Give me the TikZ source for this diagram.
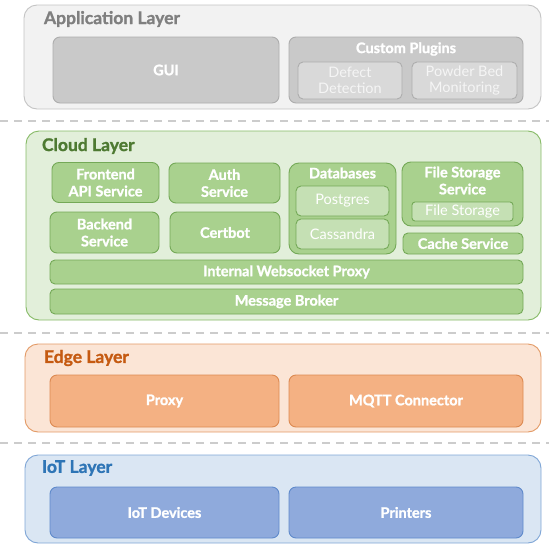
\documentclass[tikz,border=0pt]{standalone}
\usepackage{fontspec}
\setmainfont{Lato}[BoldFeatures={FakeBold=1.3}]
\begin{document}
\begin{tikzpicture}[x=1pt,y=-1pt,
  every node/.style={inner sep=0pt,outer sep=0pt,align=center},
  layer/.style={draw,line width=0.9pt,rounded corners=13pt},
  ibox/.style={draw,line width=0.9pt,rounded corners=7pt,font=\fontsize{14.5}{17}\selectfont\bfseries,text=white},
  lbox/.style={draw,line width=0.9pt,rounded corners=5pt,font=\fontsize{14.5}{16.5}\selectfont,text=white},
  btext/.style={font=\fontsize{14.5}{17}\selectfont\bfseries,text=white},
  ltitle/.style={anchor=west,font=\fontsize{17.5}{18}\selectfont\bfseries},
  sep/.style={draw=black!20,line width=1.8pt,dash pattern=on 8pt off 6pt},
]
\definecolor{appfill}{HTML}{F2F2F2}\definecolor{appdraw}{HTML}{C4C4C4}
\definecolor{appin}{HTML}{C9C9C9}\definecolor{appindraw}{HTML}{ADADAD}
\definecolor{applt}{HTML}{D9D9D9}\definecolor{apptitle}{HTML}{7F7F7F}
\definecolor{cfill}{HTML}{E2EFDA}\definecolor{cdraw}{HTML}{86BA66}
\definecolor{cin}{HTML}{A9D18E}\definecolor{cindraw}{HTML}{74A957}
\definecolor{clt}{HTML}{C5E0B4}\definecolor{ctitle}{HTML}{4E7A32}
\definecolor{efill}{HTML}{FBE5D6}\definecolor{edraw}{HTML}{E39A66}
\definecolor{ein}{HTML}{F4B183}\definecolor{eindraw}{HTML}{DC8A52}
\definecolor{etitle}{HTML}{C55A11}
\definecolor{ifill}{HTML}{DAE6F3}\definecolor{idraw}{HTML}{7FA6D6}
\definecolor{iin}{HTML}{8FAADC}\definecolor{iindraw}{HTML}{5F8ACB}
\definecolor{ititle}{HTML}{2E75B6}
\useasboundingbox (0,0) rectangle (549,544);

% separators
\coordinate (s1a) at (0,121); \coordinate (s1b) at (549,121);
\coordinate (s2a) at (0,333); \coordinate (s2b) at (549,333);
\coordinate (s3a) at (0,443); \coordinate (s3b) at (549,443);
\draw[sep] (s1a) -- (s1b);
\draw[sep] (s2a) -- (s2b);
\draw[sep] (s3a) -- (s3b);

% Application layer
\node[layer,fill=appfill,draw=appdraw,minimum width=517,minimum height=104] (app) at (282.5,57) {};
\node[ltitle,text=apptitle] (appt) at (44,19) {Application Layer};
\node[ibox,fill=appin,draw=appindraw,minimum width=226,minimum height=66] (gui) at (166,70) {GUI};
\node[ibox,fill=appin,draw=appindraw,minimum width=234,minimum height=66] (plug) at (406,70) {};
\node[btext] (plugt) at (406,49) {Custom Plugins};
\node[lbox,fill=applt,draw=appindraw,minimum width=104,minimum height=37,text=white!96!black] (defect) at (350,80.5) {Defect\\Detection};
\node[lbox,fill=applt,draw=appindraw,minimum width=105,minimum height=37,text=white!96!black] (powder) at (464.5,80.5) {Powder Bed\\Monitoring};

% Cloud layer
\node[layer,fill=cfill,draw=cdraw,minimum width=515,minimum height=189] (cloud) at (283.5,225.5) {};
\node[ltitle,text=ctitle] (cloudt) at (42,146) {Cloud Layer};
\node[ibox,fill=cin,draw=cindraw,minimum width=107,minimum height=40] (front) at (105.5,182.5) {Frontend\\API Service};
\node[ibox,fill=cin,draw=cindraw,minimum width=111,minimum height=40] (auth) at (224.5,183) {Auth\\Service};
\node[ibox,fill=cin,draw=cindraw,minimum width=107,minimum height=91,rounded corners=10pt] (db) at (342.5,208.5) {};
\node[btext] (dbt) at (342.5,173) {Databases};
\node[lbox,fill=clt,draw=cindraw,minimum width=93,minimum height=30] (pg) at (342.5,201) {Postgres};
\node[lbox,fill=clt,draw=cindraw,minimum width=93,minimum height=30] (cass) at (342.5,234) {Cassandra};
\node[ibox,fill=cin,draw=cindraw,minimum width=121,minimum height=64,rounded corners=9pt] (fss) at (462.5,194) {};
\node[btext] (fsst) at (462.5,180.5) {File Storage\\Service};
\node[lbox,fill=clt,draw=cindraw,minimum width=101,minimum height=19,rounded corners=3pt] (fs) at (462.5,211.5) {File Storage};
\node[ibox,fill=cin,draw=cindraw,minimum width=109,minimum height=41] (back) at (104.5,232.5) {Backend\\Service};
\node[ibox,fill=cin,draw=cindraw,minimum width=110,minimum height=41] (cert) at (225,232.5) {Certbot};
\node[ibox,fill=cin,draw=cindraw,minimum width=120,minimum height=21,rounded corners=5pt] (cache) at (463,243.5) {Cache Service};
\node[ibox,fill=cin,draw=cindraw,minimum width=473,minimum height=24,rounded corners=5pt] (iwp) at (286.5,272) {Internal Websocket Proxy};
\node[ibox,fill=cin,draw=cindraw,minimum width=473,minimum height=25,rounded corners=5pt] (mb) at (286.5,301.5) {Message Broker};

% Edge layer
\node[layer,fill=efill,draw=edraw,minimum width=516,minimum height=88] (edge) at (283,388) {};
\node[ltitle,text=etitle] (edget) at (44,358) {Edge Layer};
\node[ibox,fill=ein,draw=eindraw,minimum width=229,minimum height=52] (proxy) at (164.5,401) {Proxy};
\node[ibox,fill=ein,draw=eindraw,minimum width=234,minimum height=52] (mqtt) at (406,401) {MQTT Connector};

% IoT layer
\node[layer,fill=ifill,draw=idraw,minimum width=516,minimum height=88] (iot) at (283,499) {};
\node[ltitle,text=ititle] (iott) at (42,468) {IoT Layer};
\node[ibox,fill=iin,draw=iindraw,minimum width=229,minimum height=51] (dev) at (164.5,512.5) {IoT Devices};
\node[ibox,fill=iin,draw=iindraw,minimum width=234,minimum height=51] (print) at (406,512.5) {Printers};
\end{tikzpicture}
\end{document}
